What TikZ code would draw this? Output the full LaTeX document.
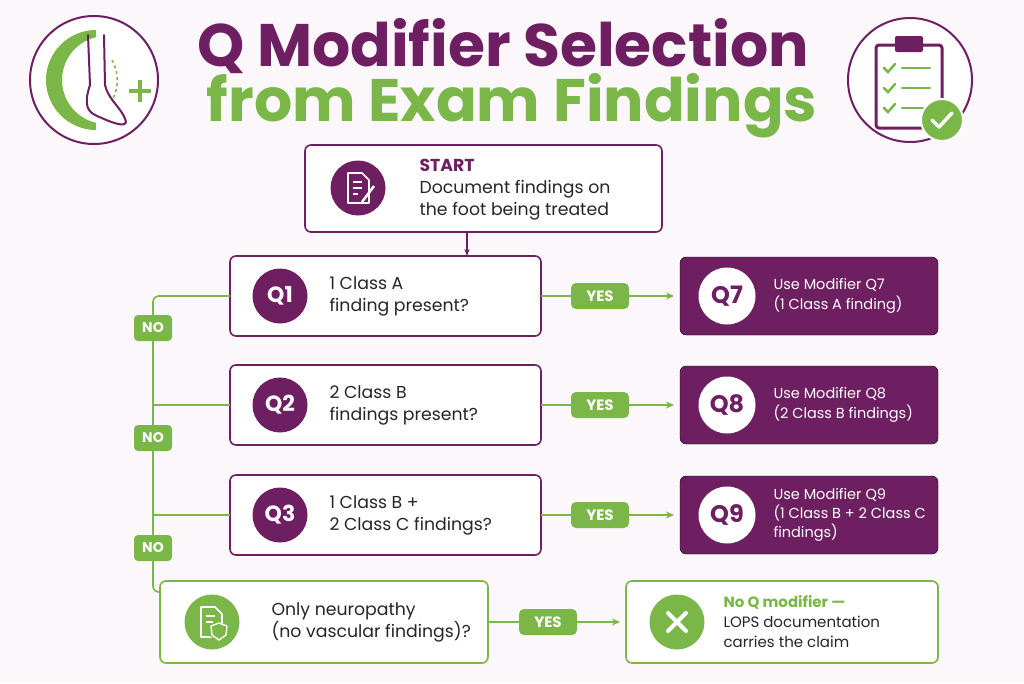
\documentclass[tikz,border=0pt]{standalone}
\usepackage{fontspec}
\setmainfont{Poppins}
\usetikzlibrary{arrows.meta}
\definecolor{pur}{HTML}{6E1F62}
\definecolor{grn}{HTML}{7AB648}
\definecolor{bg}{HTML}{FBF7FA}
\tikzset{
 qbox/.style={draw=pur,line width=1.6pt,rounded corners=6pt,fill=white},
 rbox/.style={fill=pur,rounded corners=6pt},
 gbox/.style={draw=grn,line width=1.6pt,rounded corners=6pt,fill=white},
 pcirc/.style={circle,fill=pur,text=white,minimum size=55pt,inner sep=0pt,font=\fontsize{22}{24}\selectfont\bfseries},
 wcirc/.style={circle,fill=white,text=pur,minimum size=57pt,inner sep=0pt,font=\fontsize{24}{26}\selectfont\bfseries},
 gcirc/.style={circle,fill=grn,minimum size=55pt,inner sep=0pt},
 txt/.style={align=left,anchor=west,font=\fontsize{17.3}{22}\selectfont,text=black!85},
 wtxt/.style={align=left,anchor=west,font=\fontsize{14.5}{20}\selectfont,text=white},
 yes/.style={fill=grn,rounded corners=5pt,text=white,minimum width=58pt,minimum height=26pt,inner sep=0pt,font=\fontsize{15}{16}\selectfont\bfseries},
 no/.style={fill=grn,rounded corners=4pt,text=white,minimum width=38pt,minimum height=26pt,inner sep=0pt,font=\fontsize{14}{15}\selectfont\bfseries},
 gl/.style={draw=grn,line width=1.6pt},
 arr/.style={gl,-{Stealth[length=8pt,width=7pt]}},
}
\begin{document}
\begin{tikzpicture}[x=1pt,y=-1pt]
\fill[bg] (0,0) rectangle (1024,683);
\useasboundingbox (0,0) rectangle (1024,683);
% title
\node[text=pur,font=\fontsize{60}{62}\selectfont\bfseries] (t1) at (503,46) {Q Modifier Selection};
\node[text=grn,font=\fontsize{60}{62}\selectfont\bfseries] (t2) at (512,106) {from Exam Findings};
% left icon
\node[circle,draw=pur,line width=2pt,fill=white,minimum size=128pt] (li) at (94,80) {};
\begin{scope}
\clip (40,20) rectangle (96,140);
\fill[grn,even odd rule] (96,80) circle (50) (106,80) circle (44);
\end{scope}
\draw[pur,line width=2pt,line cap=round,line join=round] (88,35) -- (90,85) .. controls (85,100) and (85,110) .. (95,115) .. controls (110,122) and (125,128) .. (126,122) .. controls (124,110) and (108,100) .. (105,85) -- (104,35);
\draw[grn,line width=1.5pt,dashed] (112,60) .. controls (120,75) and (118,90) .. (112,100);
\draw[grn,line width=4pt] (140,80) -- (140,102) (129,91) -- (151,91);
% right icon
\node[circle,draw=pur,line width=2pt,fill=white,minimum size=124pt] (ri) at (910,80) {};
\draw[pur,line width=3pt,rounded corners=3pt] (876,45) rectangle (942,128);
\fill[pur,rounded corners=2pt] (895,36) rectangle (923,52);
\foreach \yy in {68,88,108}{
 \draw[grn,line width=2.5pt,line cap=round] (884,\yy) -- (888,\yy+4) -- (895,\yy-4);
 \draw[grn,line width=2.5pt,line cap=round] (902,\yy) -- (930,\yy);}
\node[circle,fill=grn,draw=white,line width=2pt,minimum size=42pt] (ck) at (942,120) {};
\draw[white,line width=3.5pt,line cap=round,line join=round] (932,120) -- (939,127) -- (952,113);
% start
\draw[qbox] (305,145) rectangle (662,232);
\node[pcirc] (sc) at (358,188) {};
\draw[white,line width=1.6pt,line join=round] (348,173) -- (362,173) -- (369,180) -- (369,203) -- (348,203) -- cycle;
\draw[white,line width=1.3pt] (353,182) -- (362,182) (353,188) -- (362,188) (353,194) -- (358,194);
\draw[white,line width=2.5pt] (374,186) -- (362,202);
\node[txt] (st) at (416,190) {{\color{pur}\bfseries START}\\Document findings on\\the foot being treated};
\coordinate (sb) at (467,232);
% Q rows
\foreach \n/\yc/\ta/\tb in {1/296/{1 Class A}/{finding present?},
 2/405/{2 Class B}/{findings present?}}{
 \draw[qbox] (230,\yc-40) rectangle (541,\yc+40);
 \node[pcirc] (q\n) at (280,\yc) {Q\n};
 \node[txt] at (326,\yc) {\ta\\\tb};
 \draw[rbox] (680,\yc-39) rectangle (938,\yc+39);
}
\draw[qbox] (230,475) rectangle (541,555);
\node[pcirc] (q3) at (280,515) {Q3};
\node[txt] at (326,515) {1 Class B +\\2 Class C findings?};
\draw[rbox] (680,476) rectangle (938,554);
\node[wcirc] (r1) at (727,296) {Q7};
\node[wcirc] (r2) at (727,405) {Q8};
\node[wcirc] (r3) at (727,515) {Q9};
\node[wtxt] at (770,296) {Use Modifier Q7\\(1 Class A finding)};
\node[wtxt] at (770,405) {Use Modifier Q8\\(2 Class B findings)};
\node[wtxt,font=\fontsize{14.5}{19}\selectfont] at (770,515) {Use Modifier Q9\\(1 Class B + 2 Class C\\findings)};
\coordinate (q1t) at (467,256);
\draw[gl,draw=pur,-{Stealth[length=7pt]}] (sb) -- (q1t);
\foreach \yc/\n in {296/1,405/2,515/3}{
 \coordinate (a\n) at (541,\yc); \coordinate (b\n) at (674,\yc);
 \draw[arr] (a\n) -- (b\n);
 \node[yes] (y\n) at (600,\yc) {YES};
}
% final row
\draw[gbox] (160,581) rectangle (488,663);
\node[gcirc] (fc) at (212,622) {};
\draw[white,line width=1.6pt,line join=round] (201,607) -- (215,607) -- (222,614) -- (222,637) -- (201,637) -- cycle;
\draw[white,line width=1.3pt] (206,616) -- (215,616) (206,622) -- (213,622);
\fill[grn] (219,622) -- (229,626) -- (228,636) -- (219,642) -- (210,636) -- (209,626) -- cycle;
\draw[white,line width=1.4pt,line join=round] (219,623) -- (227,626) -- (226,635) -- (219,640) -- (212,635) -- (211,626) -- cycle;
\node[txt] (ft) at (268,622) {Only neuropathy\\(no vascular findings)?};
\draw[gbox] (626,581) rectangle (938,663);
\node[gcirc] (xc) at (677,622) {};
\draw[white,line width=4pt,line cap=round] (668,613) -- (686,631) (686,613) -- (668,631);
\node[txt,font=\fontsize{15}{20}\selectfont] (xt) at (720,622) {{\color{grn}\bfseries No Q modifier —}\\LOPS documentation\\carries the claim};
\coordinate (a4) at (488,622); \coordinate (b4) at (620,622);
\draw[arr] (a4) -- (b4);
\node[yes] (y4) at (548,622) {YES};
% NO line
\coordinate (n1) at (230,296); \coordinate (n2) at (230,405); \coordinate (n3) at (230,515);
\draw[gl,rounded corners=6pt] (n1) -- (153,296) -- (153,592) -- (160,592);
\draw[gl] (153,405) -- (n2) (153,515) -- (n3);
\node[no] at (153,328) {NO};
\node[no] at (153,438) {NO};
\node[no] at (153,548) {NO};
\end{tikzpicture}
\end{document}
